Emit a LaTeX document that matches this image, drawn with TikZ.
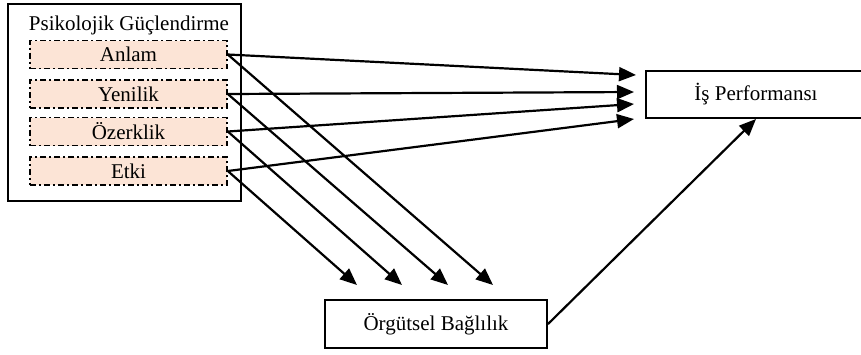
\documentclass[tikz,border=0pt]{standalone}
\usepackage{fontspec}
\setmainfont{Liberation Serif}
\usetikzlibrary{arrows.meta}
\definecolor{peach}{RGB}{252,228,214}
\begin{document}
\begin{tikzpicture}[x=1pt,y=-1pt,
  box/.style={draw, line width=2pt, inner sep=0pt},
  dimbox/.style={draw, fill=peach, line width=1.6pt, dash pattern=on 6pt off 3pt on 2pt off 3pt, minimum width=197pt, minimum height=28pt, inner sep=0pt},
  arr/.style={line width=2.2pt, -{Triangle[length=17pt,width=14pt]}},
  font=\fontsize{21}{24}\selectfont]
\useasboundingbox (0,0) rectangle (861,354);
% outer group box
\node[box, minimum width=233pt, minimum height=197pt] (outer) at (124.5,102.5) {};
\node (title) at (129,25) {Psikolojik Güçlendirme};
\node[dimbox] (anlam) at (128.5,54.5) {Anlam};
\node[dimbox] (yenilik) at (128.5,94) {Yenilik};
\node[dimbox] (ozerklik) at (128.5,131.5) {Özerklik};
\node[dimbox] (etki) at (128.5,171) {Etki};
% target boxes
\node[box, minimum width=220pt, minimum height=47pt] (is) at (756,94.5) {İş Performansı};
\node[box, minimum width=222pt, minimum height=48pt] (org) at (436,324) {Örgütsel Bağlılık};
% free ends
\coordinate (h1) at (636,75);
\coordinate (h2) at (634,92);
\coordinate (h3) at (634,104);
\coordinate (h4) at (634,119);
\coordinate (d1) at (357,285);
\coordinate (d2) at (402,285);
\coordinate (d3) at (448,285);
\coordinate (d4) at (493,285);
% arrows
\draw[arr] (anlam.east) -- (h1);
\draw[arr] (yenilik.east) -- (h2);
\draw[arr] (ozerklik.east) -- (h3);
\draw[arr] (etki.east) -- (h4);
\draw[arr] (anlam.east) -- (d4);
\draw[arr] (yenilik.east) -- (d3);
\draw[arr] (ozerklik.east) -- (d2);
\draw[arr] (etki.east) -- (d1);
\draw[arr] (org.east) -- (is.south);
\end{tikzpicture}
\end{document}
